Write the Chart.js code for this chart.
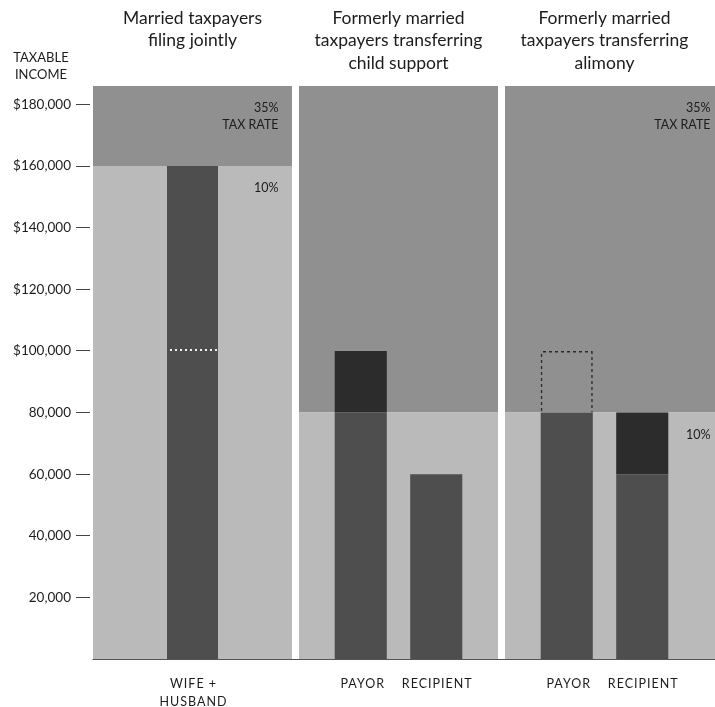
<!DOCTYPE html>
<html>
<head>
<meta charset="utf-8">
<script src="https://cdn.jsdelivr.net/npm/chart.js@4.4.1/dist/chart.umd.min.js"></script>
<style>
html,body{margin:0;padding:0;background:#fff;}
#wrap{width:715px;height:707px;position:relative;}
</style>
</head>
<body>
<div id="wrap"><canvas id="c"></canvas></div>
<script>
// ---------- data ----------
const panelKeys = ['joint', 'childSupport', 'alimony'];
const panelTitles = [
  ['Married taxpayers', 'filing jointly'],
  ['Formerly married', 'taxpayers transferring', 'child support'],
  ['Formerly married', 'taxpayers transferring', 'alimony']
];
const yAxisTitle = ['TAXABLE', 'INCOME'];
const yTickValues = [20000, 40000, 60000, 80000, 100000, 120000, 140000, 160000, 180000];
const yTickLabels = ['20,000', '40,000', '60,000', '80,000', '$100,000', '$120,000', '$140,000', '$160,000', '$180,000'];
const yTop = 186000;

// income level where the 35% bracket starts in each panel
const bracketStart35 = [160000, 80000, 80000];

// married couple filing jointly
const wifeIncome    = [100000, null, null];
const husbandIncome = [60000,  null, null];

// formerly married
const payorIncome        = [null, 100000, 100000];
const recipientIncome    = [null, 60000,  60000];
const transferAmount     = [null, 20000,  20000];
const transferDeductible = [false, false, true];   // alimony deductible, child support not

const barLabels = [['WIFE +', 'HUSBAND'], ['PAYOR', 'RECIPIENT'], ['PAYOR', 'RECIPIENT']];
const rateLabelPanels = [0, 2];
const upperRateText = ['35%', 'TAX RATE'];
const lowerRateText = '10%';

// ---------- styles ----------
const C = {
  light: '#bababa',
  dark: '#909090',
  bar: '#4e4e4e',
  barDark: '#2c2c2c',
  text: '#1c1c1c'
};
const FONT = 'Lato, "Open Sans", sans-serif';

function makePattern(w, h, painter) {
  const c = document.createElement('canvas');
  c.width = w; c.height = h;
  const g = c.getContext('2d');
  painter(g);
  return document.createElement('canvas').getContext('2d').createPattern(c, 'repeat');
}
const dotPattern = makePattern(5, 2, g => {
  g.fillStyle = C.bar; g.fillRect(0, 0, 5, 2);
  g.fillStyle = '#f2f2f2'; g.fillRect(0, 0, 2, 2);
});
const dashPattern = makePattern(6, 6, g => {
  g.fillStyle = '#2a2a2a';
  g.fillRect(0, 0, 3, 3);
  g.fillRect(3, 3, 3, 3);
});

// ---------- datasets ----------
const idx = panelKeys.map((_, i) => i);
const last = idx.length - 1;
const grp = { categoryPercentage: 0.733, barPercentage: 0.69, order: 0, borderWidth: 0 };
const single = { grouped: false, categoryPercentage: 1, barPercentage: 51 / 206, order: 0, borderWidth: 0 };
const bg = { grouped: false, categoryPercentage: 1, barPercentage: 199 / 206, order: 10, borderWidth: 0 };
// last panel runs off the right edge of the page
const bgEdge = { grouped: false, categoryPercentage: 1, barPercentage: 1.12, order: 20, borderWidth: 0,
                 clip: { left: -614, right: 20, top: 0, bottom: 0 } };

const datasets = [
  { label: 'payor', stack: 'payor', ...grp, backgroundColor: C.bar,
    data: idx.map(i => payorIncome[i] == null ? null : [0, payorIncome[i] - transferAmount[i]]) },
  { label: 'payor transfer', stack: 'payor', ...grp, backgroundColor: C.barDark,
    data: idx.map(i => payorIncome[i] == null || transferDeductible[i] ? null : [payorIncome[i] - transferAmount[i], payorIncome[i]]) },
  { label: 'payor deducted', stack: 'payor', ...grp, backgroundColor: 'rgba(0,0,0,0)',
    borderColor: dashPattern, borderWidth: { top: 1.5, left: 1.5, right: 1.5, bottom: 0 }, borderSkipped: false,
    data: idx.map(i => payorIncome[i] != null && transferDeductible[i] ? [payorIncome[i] - transferAmount[i], payorIncome[i]] : null) },
  { label: 'recipient', stack: 'recipient', ...grp, backgroundColor: C.bar,
    data: idx.map(i => recipientIncome[i] == null ? null : [0, recipientIncome[i]]) },
  { label: 'recipient transfer', stack: 'recipient', ...grp, backgroundColor: C.barDark,
    data: idx.map(i => recipientIncome[i] != null && transferDeductible[i] ? [recipientIncome[i], recipientIncome[i] + transferAmount[i]] : null) },
  { label: 'wife', ...single, backgroundColor: C.bar,
    data: idx.map(i => wifeIncome[i] == null ? null : [0, wifeIncome[i]]) },
  { label: 'husband', ...single, backgroundColor: C.bar,
    borderColor: dotPattern, borderWidth: { top: 0, left: 0, right: 0, bottom: 2 }, borderSkipped: false,
    data: idx.map(i => wifeIncome[i] == null ? null : [wifeIncome[i], wifeIncome[i] + husbandIncome[i]]) },
  { label: '10% bracket', ...bg, backgroundColor: C.light,
    data: idx.map(i => [0, bracketStart35[i]]) },
  { label: '35% bracket', ...bg, backgroundColor: C.dark,
    data: idx.map(i => [bracketStart35[i], yTop]) },
  { label: '10% bracket edge', ...bgEdge, backgroundColor: C.light,
    data: idx.map(i => i === last ? [0, bracketStart35[i]] : null) },
  { label: '35% bracket edge', ...bgEdge, backgroundColor: C.dark,
    data: idx.map(i => i === last ? [bracketStart35[i], yTop] : null) }
];

// ---------- text plugin ----------
const textPlugin = {
  id: 'texts',
  afterDraw(chart) {
    const ctx = chart.ctx, xs = chart.scales.x, ys = chart.scales.y, area = chart.chartArea;
    ctx.save();
    ctx.fillStyle = C.text;
    ctx.textBaseline = 'middle';

    // baseline
    ctx.strokeStyle = '#555';
    ctx.lineWidth = 1.2;
    ctx.beginPath();
    ctx.moveTo(xs.getPixelForValue(0) - 100, area.bottom + 0.5);
    ctx.lineTo(chart.width, area.bottom + 0.5);
    ctx.stroke();

    // panel titles
    ctx.textAlign = 'center';
    ctx.font = '17.5px ' + FONT;
    panelTitles.forEach((lines, i) => {
      const cx = xs.getPixelForValue(i);
      lines.forEach((t, j) => ctx.fillText(t, cx, 18 + j * 22.5));
    });

    // y axis title
    ctx.font = '13px ' + FONT;
    yAxisTitle.forEach((t, j) => ctx.fillText(t, 41, 58 + j * 17));

    // bar labels
    ctx.font = '12.5px ' + FONT;
    if ('letterSpacing' in ctx) ctx.letterSpacing = '1px';
    const metaOf = lbl => chart.getDatasetMeta(datasets.findIndex(d => d.label === lbl));
    const wifeMeta = metaOf('wife'), payMeta = metaOf('payor'), recMeta = metaOf('recipient');
    idx.forEach(i => {
      if (wifeIncome[i] != null) {
        const bx = wifeMeta.data[i].x;
        barLabels[i].forEach((t, j) => ctx.fillText(t, bx + 1, 684 + j * 17.5));
      } else {
        ctx.fillText(barLabels[i][0], payMeta.data[i].x + 2, 684);
        ctx.fillText(barLabels[i][1], recMeta.data[i].x + 1, 684);
      }
    });
    if ('letterSpacing' in ctx) ctx.letterSpacing = '0px';

    // rate labels
    ctx.textAlign = 'right';
    ctx.font = '12.5px ' + FONT;
    const rightOffset = [86, 106];
    rateLabelPanels.forEach((p, k) => {
      const rx = xs.getPixelForValue(p) + rightOffset[k];
      ctx.fillText(upperRateText[0], rx, area.top + 22);
      ctx.fillText(upperRateText[1], rx, area.top + 39);
      ctx.fillText(lowerRateText, rx, ys.getPixelForValue(bracketStart35[p]) + 22);
    });
    ctx.restore();
  }
};

new Chart(document.getElementById('c'), {
  type: 'bar',
  data: { labels: panelKeys, datasets },
  options: {
    responsive: true,
    maintainAspectRatio: false,
    animation: false,
    layout: { padding: { top: 86, right: 7.5, bottom: 48, left: 0 } },
    plugins: { legend: { display: false }, tooltip: { enabled: false }, title: { display: false } },
    scales: {
      x: { type: 'category', display: false, offset: true, grid: { display: false } },
      y: {
        min: 0, max: yTop, stacked: false,
        afterFit(s) { s.width = 89.5; },
        afterBuildTicks(s) { s.ticks = yTickValues.map(v => ({ value: v })); },
        ticks: {
          callback: v => { const k = yTickValues.indexOf(v); return k >= 0 ? yTickLabels[k] : ''; },
          font: { family: FONT, size: 13.5 },
          color: C.text,
          padding: 5
        },
        grid: { drawOnChartArea: false, drawTicks: true, tickLength: 13.5, tickColor: '#444', tickWidth: 1 },
        border: { display: false }
      }
    }
  },
  plugins: [textPlugin]
});
</script>
</body>
</html>
